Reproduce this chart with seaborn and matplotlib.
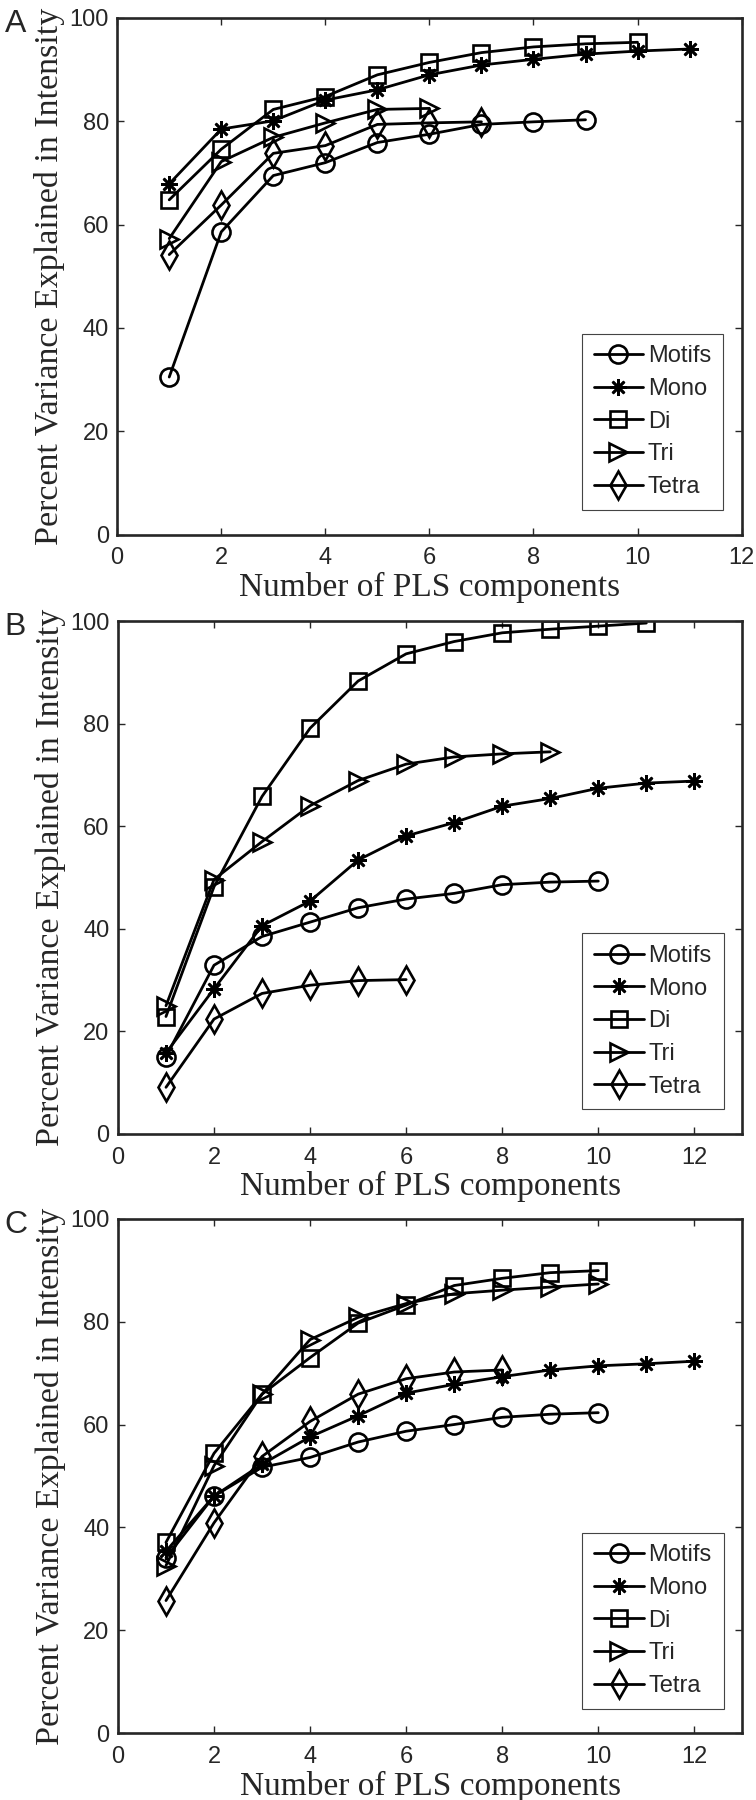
import numpy as np
import pandas as pd
import seaborn as sns
import matplotlib
matplotlib.use("Agg")
import matplotlib.pyplot as plt

series_names = ["Motifs", "Mono", "Di", "Tri", "Tetra"]

# panel A
a_motifs = [30.5, 58.6, 69.5, 72.0, 75.9, 77.5, 79.4, 79.9, 80.3]
a_mono = [67.9, 78.5, 80.1, 84.1, 86.1, 89.0, 90.9, 92.0, 93.0, 93.6, 94.0]
a_di = [64.8, 74.6, 82.3, 84.8, 89.0, 91.4, 93.3, 94.4, 95.0, 95.3]
a_tri = [57.3, 72.2, 76.9, 79.7, 82.3, 82.5]
a_tetra = [54.2, 63.8, 73.8, 75.3, 79.4, 79.7, 79.9]

# panel B
b_motifs = [15.1, 32.9, 38.5, 41.3, 44.1, 45.8, 46.9, 48.6, 49.1, 49.3]
b_mono = [15.8, 28.3, 40.6, 45.4, 53.4, 58.1, 60.7, 63.9, 65.4, 67.4, 68.4, 68.8]
b_di = [22.9, 48.2, 65.8, 79.1, 88.3, 93.6, 96.0, 97.7, 98.4, 99.0, 99.6]
b_tri = [25.0, 49.6, 57.0, 64.0, 68.9, 72.1, 73.5, 74.1, 74.5]
b_tetra = [9.1, 22.4, 27.4, 29.0, 29.9, 30.1]

# panel C
c_motifs = [34.1, 46.1, 51.7, 53.6, 56.6, 58.7, 60.0, 61.4, 62.0, 62.3]
c_mono = [35.4, 46.1, 52.3, 57.6, 61.7, 66.1, 67.8, 69.3, 70.6, 71.4, 71.8, 72.3]
c_di = [37.1, 54.4, 65.9, 73.0, 79.7, 83.2, 87.0, 88.4, 89.5, 89.9]
c_tri = [32.6, 52.0, 65.9, 76.5, 80.8, 83.5, 85.4, 86.1, 86.7, 87.3]
c_tetra = [25.8, 40.9, 53.8, 60.6, 65.9, 68.9, 70.2, 70.6]

panels = {
    "A": [a_motifs, a_mono, a_di, a_tri, a_tetra],
    "B": [b_motifs, b_mono, b_di, b_tri, b_tetra],
    "C": [c_motifs, c_mono, c_di, c_tri, c_tetra],
}
panel_xmax = {"A": 12, "B": 13, "C": 13}

markers = {"Motifs": "o", "Mono": (8, 2, 0), "Di": "s", "Tri": ">", "Tetra": "d"}
msizes = {"Motifs": 13, "Mono": 12, "Di": 11, "Tri": 13, "Tetra": 14}

sns.set_style("ticks")
plt.rcParams["font.family"] = ["Liberation Sans Narrow", "Liberation Sans", "DejaVu Sans"]
serif = ["Liberation Serif", "DejaVu Serif"]

fig = plt.figure(figsize=(7.56, 18.0), dpi=100)
boxes = {
    "A": [0.155, 0.703, 0.826, 0.287],
    "B": [0.156, 0.370, 0.826, 0.285],
    "C": [0.156, 0.037, 0.826, 0.286],
}
letter_y = {"A": 0.995, "B": 0.660, "C": 0.328}

for key, vals in panels.items():
    ax = fig.add_axes(boxes[key])
    for name, y in zip(series_names, vals):
        df = pd.DataFrame({"x": np.arange(1, len(y) + 1), "y": y})
        sns.lineplot(data=df, x="x", y="y", ax=ax, color="black", linewidth=2.0,
                     marker=markers[name], markersize=msizes[name],
                     markerfacecolor="none", markeredgecolor="black",
                     markeredgewidth=1.9, label=name)
    ax.set_xlim(0, panel_xmax[key])
    ax.set_ylim(0, 100)
    ax.set_xticks(range(0, 13, 2))
    ax.set_yticks(range(0, 101, 20))
    ax.tick_params(direction="in", top=True, right=True, length=5, width=1,
                   labelsize=17)
    ax.tick_params(axis="x", pad=9)
    ax.tick_params(axis="y", pad=6)
    for s in ax.spines.values():
        s.set_linewidth(1.9)
    ax.set_xlabel("Number of PLS components", fontsize=24, family=serif, labelpad=2)
    ax.set_ylabel("Percent Variance Explained in Intensity", fontsize=24.5,
                  family=serif, labelpad=3)
    leg = ax.legend(loc="lower right", bbox_to_anchor=(0.970, 0.048),
                    borderaxespad=0, fontsize=17, fancybox=False, framealpha=1,
                    edgecolor="#444444", handlelength=2.1, handletextpad=0.2,
                    labelspacing=0.45, borderpad=0.5)
    leg.get_frame().set_linewidth(0.8)
    fig.text(0.006, letter_y[key], key, fontsize=23, ha="left", va="top")

fig.savefig("out.png", dpi=100)
